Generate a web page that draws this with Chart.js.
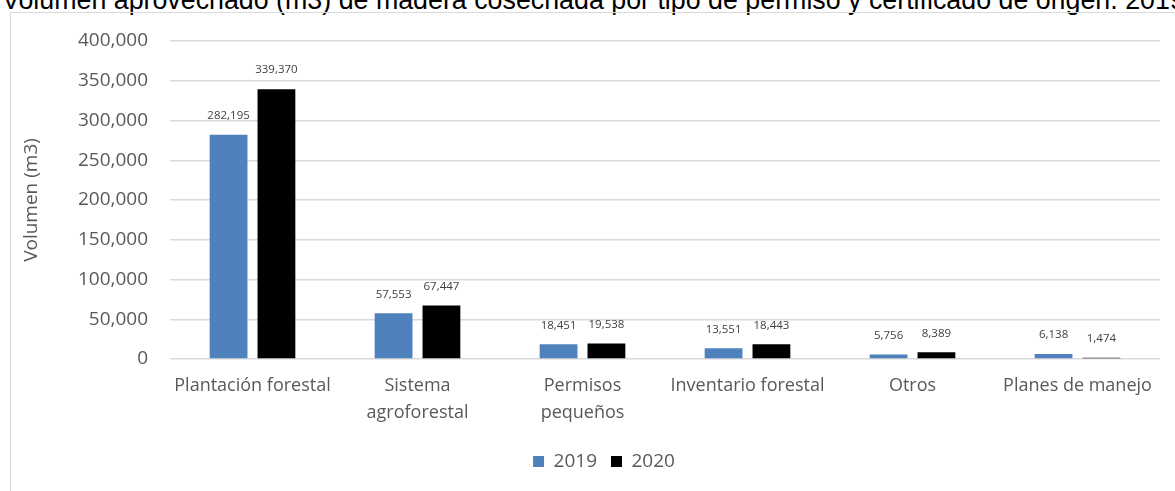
<!DOCTYPE html>
<html>
<head>
<meta charset="utf-8">
<script src="https://cdn.jsdelivr.net/npm/chart.js@4/dist/chart.umd.min.js"></script>
<style>
  html, body { margin: 0; padding: 0; background: #fff; overflow: hidden; }
  #wrap { position: relative; width: 1175px; height: 491px; }
  #title {
    position: absolute; left: 2px; top: -15px; white-space: nowrap;
    font: 26.8px "Liberation Sans", Arial, sans-serif; color: #000;
  }
  #frame {
    position: absolute; left: 10px; top: 12px; width: 1200px; height: 500px;
    border: 1.5px solid #d9d9d9; box-sizing: border-box;
  }
  #chart { position: absolute; left: 0; top: 0; }
</style>
</head>
<body>
<div id="wrap">
  <div id="title">Volumen aprovechado (m3) de madera cosechada por tipo de permiso y certificado de origen. 2019</div>
  <div id="frame"></div>
  <canvas id="chart" width="1175" height="491"></canvas>
</div>
<script>
const categories = [
  "Plantación forestal",
  ["Sistema", "agroforestal"],
  ["Permisos", "pequeños"],
  "Inventario forestal",
  "Otros",
  "Planes de manejo"
];
const values2019 = [282195, 57553, 18451, 13551, 5756, 6138];
const values2020 = [339370, 67447, 19538, 18443, 8389, 1474];
const yTicks = [0, 50000, 100000, 150000, 200000, 250000, 300000, 350000, 400000];

// etiquetas de valor encima de cada barra
const valueLabels = {
  id: "valueLabels",
  afterDatasetsDraw(chart) {
    const ctx = chart.ctx;
    ctx.save();
    ctx.font = '11.5px "Open Sans", sans-serif';
    ctx.fillStyle = "#404040";
    ctx.textAlign = "center";
    ctx.textBaseline = "middle";
    chart.data.datasets.forEach((ds, i) => {
      chart.getDatasetMeta(i).data.forEach((bar, j) => {
        ctx.fillText(ds.data[j].toLocaleString("en-US"), bar.x, bar.y - 19);
      });
    });
    ctx.restore();
  }
};

// la leyenda del original está algo desplazada a la derecha
const shiftLegend = {
  id: "shiftLegend",
  afterLayout(chart) {
    chart.legend.left += 18;
    chart.legend.right += 18;
  }
};

const ctx = document.getElementById("chart").getContext("2d");
new Chart(ctx, {
  type: "bar",
  data: {
    labels: categories,
    datasets: [
      { label: "2019", data: values2019, backgroundColor: "#4f81bd" },
      { label: "2020", data: values2020, backgroundColor: "#000000" }
    ]
  },
  options: {
    responsive: false,
    animation: false,
    categoryPercentage: 0.58,
    barPercentage: 0.79,
    layout: { padding: { left: 12, right: 15, top: 41, bottom: 10 } },
    plugins: {
      legend: {
        position: "bottom",
        labels: {
          boxWidth: 11, boxHeight: 11, padding: 14,
          color: "#595959",
          font: { family: "Open Sans", size: 19 }
        }
      },
      tooltip: { enabled: false }
    },
    scales: {
      x: {
        afterFit: (scale) => { scale.height += 7; },
        grid: { display: false },
        border: { display: false },
        ticks: {
          color: "#595959",
          padding: 5,
          maxRotation: 0,
          autoSkip: false,
          font: { family: "Open Sans", size: 18, lineHeight: 1.5 }
        }
      },
      y: {
        min: 0, max: 400000,
        afterBuildTicks: (scale) => { scale.ticks = yTicks.map(v => ({ value: v })); },
        afterFit: (scale) => { scale.width = 158; },
        grid: { color: "#d9d9d9", lineWidth: 1.5, drawTicks: false },
        border: { display: false },
        title: {
          display: true, text: "Volumen (m3)", color: "#595959",
          font: { family: "Open Sans", size: 19 },
          padding: { top: 8, bottom: 0 }
        },
        ticks: {
          color: "#595959",
          padding: 22,
          font: { family: "Open Sans", size: 19 },
          callback: (v) => v.toLocaleString("en-US")
        }
      }
    }
  },
  plugins: [valueLabels, shiftLegend]
});
</script>
</body>
</html>
